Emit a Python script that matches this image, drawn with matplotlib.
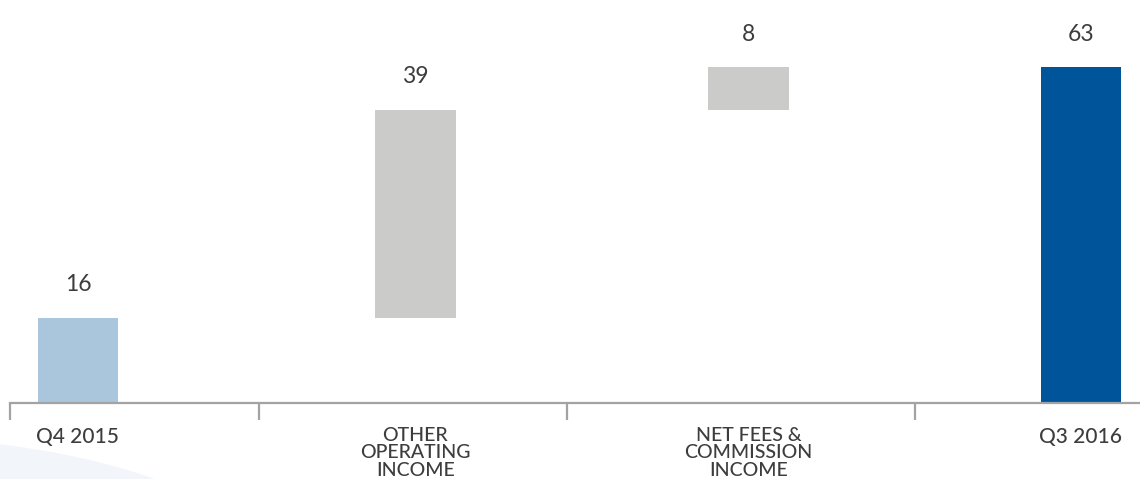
import matplotlib
matplotlib.use("Agg")
import matplotlib.pyplot as plt
from matplotlib.patches import Ellipse
import numpy as np

categories = ["Q4 2015", "OTHER\nOPERATING\nINCOME", "NET FEES &\nCOMMISSION\nINCOME", "Q3 2016"]
values = [16, 39, 8, 63]
kinds = ["total", "step", "step", "total"]
colors = ["#a9c6dd", "#cbcbca", "#cbcbca", "#00559a"]

# layout (x positions of the bars and of the divider ticks)
positions = [0, 1.009, 2.006, 3]
dividers = [0.541, 1.463, 2.504]

TEXT = "#3d3d3d"
AXIS = "#a3a3a3"

plt.rcParams["font.family"] = ["Lato", "DejaVu Sans"]

fig = plt.figure(figsize=(11.4, 4.79), dpi=100)

# faint background swoosh bottom-left
fig.patches.append(Ellipse((-150, -81), 800, 250, transform=None,
                           facecolor="#f2f6fa", edgecolor="none", zorder=0))

ax = fig.add_axes([10 / 1140, 76 / 479, 1130 / 1140, 403 / 479])
ax.patch.set_alpha(0)

x = np.array(positions)
bottoms = []
running = 0
for v, k in zip(values, kinds):
    if k == "total":
        bottoms.append(0)
        running = v
    else:
        bottoms.append(running)
        running += v

ax.bar(x, values, bottom=bottoms, width=0.241, color=colors, zorder=2)

for xi, v, b in zip(x, values, bottoms):
    ax.annotate(str(v), (xi, b + v), xytext=(0, 19), textcoords="offset points",
                ha="center", va="baseline", fontsize=16.5, color=TEXT)

ax.set_xlim(-0.2034, 3.177)
ax.set_ylim(0, 75.6)

for s in ["top", "right", "left"]:
    ax.spines[s].set_visible(False)
ax.spines["bottom"].set_color(AXIS)
ax.spines["bottom"].set_linewidth(1.6)

ax.set_yticks([])
ax.set_xticks([-0.2034] + dividers)
ax.set_xticklabels([])
ax.tick_params(axis="x", length=12, width=1.6, color=AXIS)

for xi, lab in zip(x, categories):
    multi = "\n" in lab
    ax.annotate(lab, (xi, 0), xytext=(0, -17), textcoords="offset points",
                ha="center", va="top", fontsize=14 if multi else 15, color=TEXT,
                fontweight="medium", linespacing=1.05, annotation_clip=False)

fig.savefig("out.png", dpi=100)
plt.close(fig)
